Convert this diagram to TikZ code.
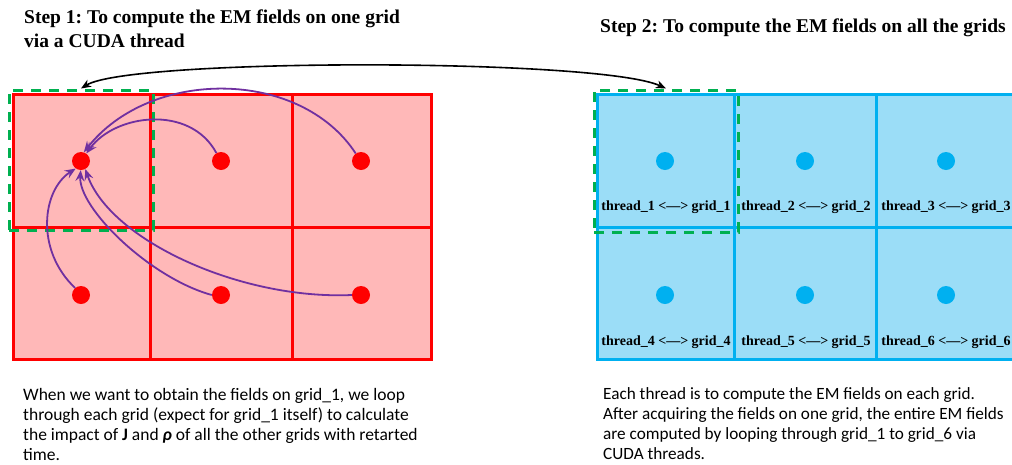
\documentclass[tikz,border=0pt]{standalone}
\usepackage{fontspec}
\setmainfont{Liberation Serif}
\newfontfamily\carlito{Carlito}
\usetikzlibrary{arrows.meta}
\frenchspacing
\definecolor{cellred}{HTML}{FF0000}
\definecolor{cellpink}{HTML}{FFB8B8}
\definecolor{cellblue}{HTML}{00B0F0}
\definecolor{celllblue}{HTML}{9BDDF7}
\definecolor{dgreen}{HTML}{00B050}
\definecolor{purp}{HTML}{7030A0}
\begin{document}
\begin{tikzpicture}[x=1pt,y=-1pt,
  redcell/.style={draw=cellred,fill=cellpink,line width=3pt,rectangle,inner sep=0pt},
  bluecell/.style={draw=cellblue,fill=celllblue,line width=3pt,rectangle,inner sep=0pt},
  reddot/.style={circle,fill=cellred,minimum size=18pt,inner sep=0pt},
  bluedot/.style={circle,fill=cellblue,minimum size=18pt,inner sep=0pt},
  selbox/.style={draw=dgreen,line width=3pt,dash pattern=on 10pt off 8pt},
  infl/.style={draw=purp,line width=1.8pt,-{Stealth[length=11pt,width=9pt,inset=4pt]}},
  link/.style={draw=black,line width=1.6pt,{Stealth[length=10pt,width=8pt,inset=3pt]}-{Stealth[length=10pt,width=8pt,inset=3pt]}},
  celllabel/.style={font=\fontsize{14}{16}\selectfont\bfseries},
  title/.style={font=\fontsize{19.5}{24}\selectfont\bfseries,align=left,inner sep=0pt},
  note/.style={font=\carlito\fontsize{17.5}{20}\selectfont,align=left,inner sep=0pt}]
\useasboundingbox (0,0) rectangle (1012,464);
% titles
\node[title,anchor=north west] (t1) at (24,10) {Step 1: To compute the EM fields on one grid\\via a CUDA thread};
\node[title,anchor=west] (t2) at (600,28) {Step 2: To compute the EM fields on all the grids};
% left grid
\node[redcell,minimum width=137pt,minimum height=133pt] (L1) at (81.5,160.5) {};
\node[redcell,minimum width=142pt,minimum height=133pt] (L2) at (221,160.5) {};
\node[redcell,minimum width=139pt,minimum height=133pt] (L3) at (361.5,160.5) {};
\node[redcell,minimum width=137pt,minimum height=132pt] (L4) at (81.5,293) {};
\node[redcell,minimum width=142pt,minimum height=132pt] (L5) at (221,293) {};
\node[redcell,minimum width=139pt,minimum height=132pt] (L6) at (361.5,293) {};
\node[reddot] (d1) at (81,161) {};
\node[reddot] (d2) at (221,161) {};
\node[reddot] (d3) at (361,161) {};
\node[reddot] (d4) at (81,295) {};
\node[reddot] (d5) at (221,295) {};
\node[reddot] (d6) at (361,295) {};
% right grid
\node[bluecell,minimum width=137pt,minimum height=133pt] (R1) at (665.5,160.5) {};
\node[bluecell,minimum width=142pt,minimum height=133pt] (R2) at (805,160.5) {};
\node[bluecell,minimum width=140pt,minimum height=133pt] (R3) at (946,160.5) {};
\node[bluecell,minimum width=137pt,minimum height=132pt] (R4) at (665.5,293) {};
\node[bluecell,minimum width=142pt,minimum height=132pt] (R5) at (805,293) {};
\node[bluecell,minimum width=140pt,minimum height=132pt] (R6) at (946,293) {};
\node[bluedot] (b1) at (665,161) {};
\node[bluedot] (b2) at (805,161) {};
\node[bluedot] (b3) at (946,161) {};
\node[bluedot] (b4) at (665,295) {};
\node[bluedot] (b5) at (805,295) {};
\node[bluedot] (b6) at (946,295) {};
\node[celllabel] (l1) at (666,207) {thread\_1 <—> grid\_1};
\node[celllabel] (l2) at (806,207) {thread\_2 <—> grid\_2};
\node[celllabel] (l3) at (946,207) {thread\_3 <—> grid\_3};
\node[celllabel] (l4) at (666,342) {thread\_4 <—> grid\_4};
\node[celllabel] (l5) at (806,342) {thread\_5 <—> grid\_5};
\node[celllabel] (l6) at (946,342) {thread\_6 <—> grid\_6};
% selection boxes
\node[selbox,rectangle,inner sep=0pt,minimum width=144pt,minimum height=140pt] (s1) at (81,160) {};
\node[selbox,rectangle,inner sep=0pt,minimum width=144pt,minimum height=142pt] (s2) at (666,161) {};
% link arrow
\draw[link] (s1.north) .. controls (130,58) and (600,58) .. (s2.north);
% influence arrows
\draw[infl] (d2.120) .. controls (190,104) and (115,114) .. (d1.55);
\draw[infl] (d3.125) .. controls (300,68) and (150,68) .. (d1.72);
\draw[infl] (d4.130) .. controls (35,250) and (42,190) .. (d1.235);
\draw[infl] (d5.180) .. controls (150,278) and (78,208) .. (d1.268);
\draw[infl] (d6.180) .. controls (240,300) and (110,240) .. (d1.298);
% notes
\node[note,anchor=north west] (n1) at (23,388) {When we want to obtain the fields on grid\_1, we loop\\through each grid (expect for grid\_1 itself) to calculate\\the impact of \textbf{J} and \textbf{\textit{ρ}} of all the other grids with retarted\\time.};
\node[note,font=\carlito\fontsize{17.2}{20}\selectfont,anchor=north west] (n2) at (603,387) {Each thread is to compute the EM fields on each grid.\\After acquiring the fields on one grid, the entire EM fields\\are computed by looping through grid\_1 to grid\_6 via\\CUDA threads.};
\end{tikzpicture}
\end{document}
